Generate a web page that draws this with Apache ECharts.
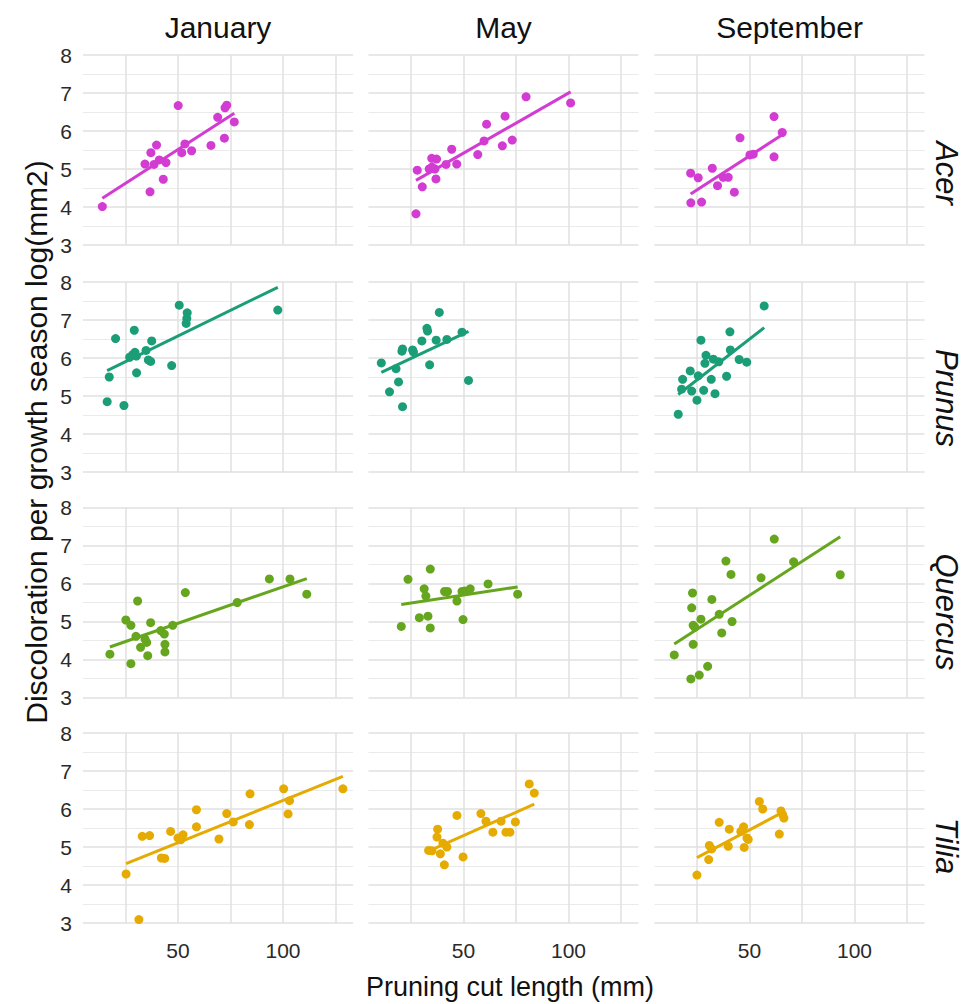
<!DOCTYPE html>
<html>
<head>
<meta charset="utf-8">
<script src="https://cdn.jsdelivr.net/npm/echarts@6/dist/echarts.min.js"></script>
<style>
html,body{margin:0;padding:0;background:#fff;}
#chart{width:965px;height:1004px;}
</style>
</head>
<body>
<div id="chart"></div>
<script>
// ---------- labels / ticks ----------
const months = ['January', 'May', 'September'];
const species = ['Acer', 'Prunus', 'Quercus', 'Tilia'];
const speciesColors = ['#D23CD2', '#1B9E77', '#66A61E', '#E6AB02'];
const xGridTicks = [25, 50, 75, 100, 125];
const xLabelTicks = [50, 100];
const yTicks = [3, 4, 5, 6, 7, 8];
const xTitle = 'Pruning cut length (mm)';
const yTitle = 'Discoloration per growth season log(mm2)';

// ---------- Acer ----------
const acerJanX = [14.0, 36.7, 34.3, 37.1, 39.8, 38.6, 41.1, 44.3, 43.0, 50.1, 51.8, 53.3, 56.5, 65.7, 68.9, 72.1, 72.4, 73.2, 76.8];
const acerJanY = [4.01, 4.40, 5.13, 5.43, 5.63, 5.12, 5.24, 5.17, 4.73, 6.67, 5.43, 5.66, 5.48, 5.62, 6.36, 5.81, 6.61, 6.68, 6.24];
const acerJanFitX = [14.0, 76.8];
const acerJanFitY = [4.23, 6.47];

const acerMayX = [27.4, 28.0, 30.4, 33.7, 35.0, 36.4, 34.9, 37.2, 36.9, 41.7, 44.4, 46.8, 56.8, 59.8, 61.0, 68.5, 69.8, 73.2, 79.8, 101.0];
const acerMayY = [3.82, 4.97, 4.53, 5.00, 5.05, 5.00, 5.28, 5.26, 4.74, 5.12, 5.52, 5.13, 5.38, 5.74, 6.18, 5.61, 6.39, 5.76, 6.90, 6.74];
const acerMayFitX = [27.4, 101.0];
const acerMayFitY = [4.70, 7.03];

const acerSepX = [22.0, 25.6, 22.1, 27.2, 32.3, 34.8, 37.5, 39.9, 42.8, 45.5, 50.2, 51.8, 61.7, 61.7, 65.6];
const acerSepY = [4.89, 4.77, 4.11, 4.13, 5.02, 4.56, 4.78, 4.78, 4.39, 5.82, 5.37, 5.39, 6.38, 5.32, 5.96];
const acerSepFitX = [22.0, 65.6];
const acerSepFitY = [4.34, 5.90];

// ---------- Prunus ----------
const prunusJanX = [16.3, 17.3, 20.3, 24.3, 29.2, 27.0, 28.3, 29.5, 30.2, 30.3, 34.8, 35.9, 37.0, 37.5, 47.0, 50.6, 54.4, 54.2, 53.9, 97.5];
const prunusJanY = [4.85, 5.50, 6.51, 4.75, 6.73, 6.02, 6.08, 6.15, 6.05, 5.61, 6.20, 5.95, 5.91, 6.45, 5.80, 7.39, 7.19, 7.04, 6.91, 7.26];
const prunusJanFitX = [16.3, 97.5];
const prunusJanFitY = [5.67, 7.86];

const prunusMayX = [10.9, 14.8, 17.9, 19.1, 21.0, 20.7, 21.0, 25.8, 26.2, 30.2, 32.6, 32.9, 33.9, 37.0, 38.5, 42.1, 49.3, 52.4];
const prunusMayY = [5.87, 5.11, 5.72, 5.37, 4.72, 6.18, 6.24, 6.21, 6.16, 6.45, 6.78, 6.71, 5.82, 6.47, 7.20, 6.49, 6.68, 5.41];
const prunusMayFitX = [10.9, 52.4];
const prunusMayFitY = [5.62, 6.70];

const prunusSepX = [16.1, 17.7, 18.2, 21.8, 22.5, 25.0, 25.6, 26.9, 28.2, 29.3, 28.8, 31.8, 32.8, 35.4, 33.6, 39.1, 40.7, 40.9, 45.1, 48.7, 57.0];
const prunusSepY = [4.52, 5.18, 5.44, 5.66, 5.13, 4.89, 5.53, 6.47, 5.15, 6.07, 5.86, 5.44, 5.97, 5.90, 5.06, 5.52, 6.69, 6.21, 5.96, 5.89, 7.37];
const prunusSepFitX = [16.1, 57.0];
const prunusSepFitY = [5.04, 6.80];

// ---------- Quercus ----------
const quercusJanX = [17.6, 25.2, 27.6, 27.6, 30.8, 30.0, 32.2, 34.3, 35.1, 35.6, 37.0, 41.8, 43.5, 43.8, 43.8, 47.5, 53.5, 78.2, 93.5, 103.3, 111.3];
const quercusJanY = [4.14, 5.04, 4.90, 3.89, 5.54, 4.61, 4.32, 4.54, 4.45, 4.10, 4.97, 4.76, 4.67, 4.40, 4.20, 4.90, 5.76, 5.50, 6.12, 6.12, 5.72];
const quercusJanFitX = [17.6, 111.3];
const quercusJanFitY = [4.33, 6.13];

const quercusMayX = [20.4, 23.6, 29.0, 31.3, 32.1, 33.1, 34.2, 34.2, 41.0, 42.4, 46.9, 49.3, 50.5, 49.8, 53.2, 61.7, 75.8];
const quercusMayY = [4.87, 6.11, 5.10, 5.86, 5.67, 5.14, 6.38, 4.83, 5.79, 5.79, 5.54, 5.79, 5.80, 5.05, 5.86, 5.99, 5.72];
const quercusMayFitX = [20.4, 75.8];
const quercusMayFitY = [5.45, 5.91];

const quercusSepX = [14.2, 22.1, 26.1, 30.1, 22.9, 22.5, 23.2, 24.0, 23.2, 26.9, 32.1, 35.6, 36.8, 38.8, 41.2, 41.7, 55.5, 61.8, 71.0, 93.2];
const quercusSepY = [4.12, 3.49, 3.59, 3.82, 5.75, 5.36, 4.90, 4.85, 4.40, 5.06, 5.58, 5.19, 4.70, 6.59, 6.24, 5.00, 6.15, 7.17, 6.57, 6.23];
const quercusSepFitX = [14.2, 93.2];
const quercusSepFitY = [4.41, 7.23];

// ---------- Tilia ----------
const tiliaJanX = [25.3, 31.4, 33.0, 36.5, 42.1, 43.7, 46.5, 50.0, 51.3, 52.4, 58.8, 58.8, 69.5, 73.2, 76.3, 84.3, 84.0, 100.3, 103.1, 102.4, 128.5];
const tiliaJanY = [4.29, 3.09, 5.28, 5.30, 4.71, 4.70, 5.41, 5.24, 5.19, 5.32, 5.98, 5.53, 5.21, 5.88, 5.66, 6.40, 5.59, 6.53, 6.22, 5.87, 6.53];
const tiliaJanFitX = [25.3, 128.5];
const tiliaJanFitY = [4.56, 6.86];

const tiliaMayX = [33.4, 35.0, 37.7, 37.4, 39.0, 40.2, 42.1, 40.9, 46.9, 49.8, 58.3, 60.7, 64.0, 67.9, 70.2, 72.1, 74.7, 81.3, 83.7];
const tiliaMayY = [4.91, 4.90, 5.47, 5.26, 4.82, 5.10, 5.00, 4.53, 5.83, 4.74, 5.88, 5.68, 5.39, 5.68, 5.39, 5.39, 5.66, 6.66, 6.42];
const tiliaMayFitX = [33.4, 83.7];
const tiliaMayFitY = [4.89, 6.13];

const tiliaSepX = [25.0, 30.6, 30.9, 32.0, 35.6, 39.9, 40.4, 45.9, 47.2, 47.5, 48.8, 49.4, 54.7, 56.3, 64.2, 65.0, 65.8, 66.4];
const tiliaSepY = [4.26, 4.67, 5.04, 4.95, 5.65, 5.02, 5.47, 5.41, 5.53, 4.99, 5.24, 5.20, 6.20, 6.00, 5.34, 5.95, 5.85, 5.76];
const tiliaSepFitX = [25.0, 66.4];
const tiliaSepFitY = [4.72, 5.93];

// panels[row][col] = [x, y, fitX, fitY]
const panels = [
  [[acerJanX, acerJanY, acerJanFitX, acerJanFitY], [acerMayX, acerMayY, acerMayFitX, acerMayFitY], [acerSepX, acerSepY, acerSepFitX, acerSepFitY]],
  [[prunusJanX, prunusJanY, prunusJanFitX, prunusJanFitY], [prunusMayX, prunusMayY, prunusMayFitX, prunusMayFitY], [prunusSepX, prunusSepY, prunusSepFitX, prunusSepFitY]],
  [[quercusJanX, quercusJanY, quercusJanFitX, quercusJanFitY], [quercusMayX, quercusMayY, quercusMayFitX, quercusMayFitY], [quercusSepX, quercusSepY, quercusSepFitX, quercusSepFitY]],
  [[tiliaJanX, tiliaJanY, tiliaJanFitX, tiliaJanFitY], [tiliaMayX, tiliaMayY, tiliaMayFitX, tiliaMayFitY], [tiliaSepX, tiliaSepY, tiliaSepFitX, tiliaSepFitY]]
];

// ---------- layout ----------
const FONT = '"Liberation Sans", Arial, Helvetica, sans-serif';
const colLeft = [83, 368.5, 654.5];
const rowTop = [55, 282, 507.5, 733];
const panelW = 270, panelH = 190;
const xMin = 4.8, xMax = 133.3;
const gridColor = '#e0e0e0';
const minorGridColor = '#eaeaea';
const stripY = [173, 398, 612, 846];

const grids = [], xAxes = [], yAxes = [], series = [];
let idx = 0;
for (let r = 0; r < species.length; r++) {
  for (let c = 0; c < months.length; c++) {
    grids.push({left: colLeft[c], top: rowTop[r], width: panelW, height: panelH, containLabel: false});
    xAxes.push({
      gridIndex: idx, type: 'value', min: xMin, max: xMax,
      axisLine: {show: false},
      axisTick: {show: false, customValues: xGridTicks},
      axisLabel: {show: r === species.length - 1, customValues: xLabelTicks, fontSize: 21, color: '#2a2a2a', margin: 17, fontFamily: FONT},
      splitLine: {show: true, lineStyle: {color: gridColor, width: 1.5}}
    });
    yAxes.push({
      gridIndex: idx, type: 'value', min: yTicks[0], max: yTicks[yTicks.length - 1], interval: 1,
      axisLine: {show: false}, axisTick: {show: false},
      axisLabel: {show: c === 0, fontSize: 21, color: '#2a2a2a', margin: 11, fontFamily: FONT, showMinLabel: true, showMaxLabel: true},
      splitLine: {show: true, lineStyle: {color: gridColor, width: 1.5}},
      minorTick: {show: false, splitNumber: 2},
      minorSplitLine: {show: true, lineStyle: {color: minorGridColor, width: 1.2}}
    });
    const p = panels[r][c];
    const col = speciesColors[r];
    series.push({
      type: 'scatter', xAxisIndex: idx, yAxisIndex: idx,
      data: p[0].map((x, i) => [x, p[1][i]]),
      symbolSize: 9, itemStyle: {color: col, opacity: 1}, z: 2, silent: true
    });
    series.push({
      type: 'line', xAxisIndex: idx, yAxisIndex: idx,
      data: p[2].map((x, i) => [x, p[3][i]]),
      showSymbol: false, symbol: 'none', lineStyle: {color: col, width: 3}, z: 3, silent: true
    });
    idx++;
  }
}

const graphics = [];
months.forEach((m, c) => {
  graphics.push({type: 'text', x: colLeft[c] + panelW / 2, y: 27,
    style: {text: m, font: '30px ' + FONT, fill: '#111', align: 'center', verticalAlign: 'middle'}});
});
species.forEach((s, r) => {
  graphics.push({type: 'text', x: 946, y: stripY[r], rotation: -Math.PI / 2,
    style: {text: s, font: 'italic 31px ' + FONT, fill: '#111', align: 'center', verticalAlign: 'middle'}});
});
graphics.push({type: 'text', x: 510, y: 987,
  style: {text: xTitle, font: '27px ' + FONT, fill: '#111', align: 'center', verticalAlign: 'middle'}});
graphics.push({type: 'text', x: 36, y: 442, rotation: Math.PI / 2,
  style: {text: yTitle, font: '30px ' + FONT, fill: '#111', align: 'center', verticalAlign: 'middle'}});

const chart = echarts.init(document.getElementById('chart'), null, {renderer: 'svg'});
chart.setOption({
  animation: false,
  backgroundColor: '#fff',
  grid: grids, xAxis: xAxes, yAxis: yAxes, series: series,
  graphic: graphics
});
</script>
</body>
</html>
